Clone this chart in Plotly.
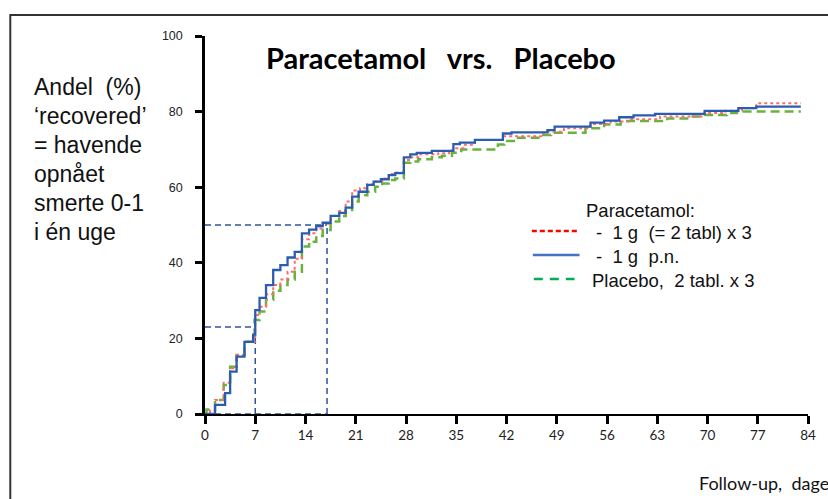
import plotly.graph_objects as go

# Kaplan-Meier-like cumulative recovery (%), step changes (day, %)
days_p3 = [0, 0.7, 1.4, 2.6, 3.5, 4.4, 5.5, 7.0, 7.6, 8.5, 9.5, 10.5, 11.5, 12.5, 13.5, 14.5, 15.5,
           16.4, 17.5, 18.7, 19.6, 20.5, 21.6, 22.6, 23.5, 24.7, 25.6, 26.5, 27.7, 28.6, 29.7, 32.5,
           34.0, 35.0, 36.0, 37.6, 41.7, 47.2, 50.0, 53.7, 56.5, 59.2, 63.4, 69.6, 72.5, 74.8, 76.8, 83.0]
pct_p3 = [0, 0.9, 3.7, 8.3, 12.1, 15.6, 19.1, 26.2, 28.4, 31.7, 34.1, 35.6, 37.6, 41.1, 46.2, 47.8, 49.1,
          50.3, 52.4, 53.7, 56.2, 59.1, 59.7, 60.8, 61.5, 62.3, 63.5, 63.9, 67.2, 67.9, 68.7, 69.0,
          69.8, 70.3, 71.2, 72.5, 73.5, 74.7, 75.6, 76.7, 77.4, 78.0, 78.7, 79.6, 80.2, 80.9, 82.2, 82.2]

days_pn = [0, 1.4, 2.8, 3.5, 4.4, 5.5, 6.7, 7.0, 7.6, 8.5, 9.5, 10.5, 11.5, 12.5, 13.5, 14.5, 15.5,
           16.4, 17.5, 18.7, 19.6, 20.5, 21.4, 22.6, 23.5, 24.5, 25.6, 26.5, 27.7, 28.6, 29.5, 31.6,
           34.6, 35.5, 37.6, 41.5, 42.7, 47.7, 48.7, 53.7, 55.6, 57.7, 59.7, 62.7, 69.6, 74.3, 76.8, 83.0]
pct_pn = [0, 2.4, 5.5, 11.2, 15.2, 19.1, 21.0, 27.5, 30.7, 34.1, 38.1, 39.4, 41.4, 42.9, 47.8, 48.8, 49.7,
          50.6, 52.4, 53.2, 54.6, 57.5, 58.8, 60.6, 61.5, 62.1, 63.2, 63.7, 67.9, 68.7, 69.1, 69.6,
          71.4, 71.8, 72.5, 74.2, 74.5, 75.1, 76.0, 77.1, 77.6, 78.5, 79.0, 79.4, 80.2, 80.9, 81.3, 81.3]

days_pl = [0, 0.2, 1.4, 2.6, 3.5, 4.4, 5.5, 6.9, 7.6, 8.5, 9.5, 10.5, 11.5, 12.5, 13.5, 14.5, 15.5,
           16.4, 17.5, 18.7, 19.6, 20.5, 21.4, 22.6, 23.7, 24.7, 25.6, 26.5, 27.7, 28.6, 29.7, 31.6,
           33.0, 34.4, 35.7, 40.8, 41.7, 43.6, 46.8, 48.2, 53.0, 55.6, 57.9, 64.4, 67.6, 69.7, 72.7, 74.1, 83.0]
pct_pl = [0, 1.2, 3.7, 7.7, 12.5, 15.6, 19.1, 24.9, 27.1, 30.2, 32.6, 34.1, 35.6, 37.6, 44.3, 45.6, 47.1,
          48.7, 50.9, 52.4, 54.0, 56.2, 57.9, 58.8, 60.1, 61.0, 61.9, 62.3, 66.5, 66.8, 67.4, 67.9,
          68.3, 69.1, 70.0, 71.3, 72.2, 73.1, 73.8, 74.4, 75.6, 76.6, 77.5, 78.2, 78.7, 79.1, 79.6, 80.0, 80.0]

x_ticks = list(range(0, 85, 7))
y_ticks = [0, 20, 40, 60, 80, 100]

# reference lines: median (50 %) and day-7 readings
median_day, median_pct = 17, 50
day7, pct_day7 = 7, 23

ref_col = "#2f5597"
W, H = 828, 499
L, R, T, B = 205, 16, 36, 85


def px(x):
    return (x - L) / (W - L - R)


def py(y):
    return (H - B - y) / (H - T - B)


fig = go.Figure()

fig.add_trace(go.Scatter(x=days_pl, y=pct_pl, mode="lines", line_shape="hv",
                         line=dict(color="#6ab23e", width=2.5, dash="9px,5px")))
fig.add_trace(go.Scatter(x=days_p3, y=pct_p3, mode="lines", line_shape="hv",
                         line=dict(color="#ff6b6b", width=2, dash="3px,3px")))
fig.add_trace(go.Scatter(x=days_pn, y=pct_pn, mode="lines", line_shape="hv",
                         line=dict(color="#2a5db0", width=2.3)))

# dashed reading lines
for x0, y0, x1, y1 in [(0, median_pct, median_day, median_pct), (median_day, 0, median_day, median_pct),
                       (0, pct_day7, day7, pct_day7), (day7, 0, day7, pct_day7), (0, 0, median_day, 0)]:
    fig.add_shape(type="line", xref="x", yref="y", x0=x0, y0=y0, x1=x1, y1=y1,
                  line=dict(color=ref_col, width=1.5, dash="6px,4px"), layer="below")

# outer frame
fig.add_shape(type="rect", xref="paper", yref="paper", x0=px(9), y0=py(H + 10), x1=px(W + 10), y1=py(15),
              line=dict(color="#333333", width=2))

# legend (drawn by hand)
leg_font = dict(family="Liberation Sans, Arial", size=18.5, color="#111111")
fig.add_annotation(xref="paper", yref="paper", x=px(587), y=py(210), text="Paracetamol:",
                   showarrow=False, xanchor="left", yanchor="middle", font=leg_font)
legend_rows = [
    (232, "#ff0000", "5px,3px", 534, 582, "-&nbsp; 1 g&nbsp; (= 2 tabl) x 3", 597),
    (256, "#4472c4", "solid", 535, 582, "-&nbsp; 1 g&nbsp; p.n.", 597),
    (280, "#00b050", "9px,7px", 536, 577, "Placebo,&nbsp; 2 tabl. x 3", 593),
]
for yy, col, dash, xa, xb, label, xt in legend_rows:
    fig.add_shape(type="line", xref="paper", yref="paper", x0=px(xa), x1=px(xb), y0=py(yy - 1), y1=py(yy - 1),
                  line=dict(color=col, width=2.5, dash=dash))
    fig.add_annotation(xref="paper", yref="paper", x=px(xt), y=py(yy), text=label,
                       showarrow=False, xanchor="left", yanchor="middle", font=leg_font)

# title
fig.add_annotation(xref="paper", yref="paper", x=px(443), y=py(57),
                   text="<b>Paracetamol&nbsp;&nbsp;&nbsp;vrs.&nbsp;&nbsp;&nbsp;Placebo</b>",
                   showarrow=False, xanchor="center", yanchor="middle",
                   font=dict(family="Lato, Carlito, sans-serif", size=29, color="black"))

# y-axis description
ylab = ["Andel&nbsp; (%)", "‘recovered’", "= havende", "opnået", "smerte 0-1", "i én uge"]
for i, s in enumerate(ylab):
    fig.add_annotation(xref="paper", yref="paper", x=px(31), y=py(87 + 29 * i), text=s,
                       showarrow=False, xanchor="left", yanchor="middle",
                       font=dict(family="Liberation Sans, Arial", size=23, color="#111111"))

fig.add_annotation(xref="paper", yref="paper", x=px(835), y=py(483), text="Follow-up,&nbsp; dage",
                   showarrow=False, xanchor="right", yanchor="middle",
                   font=dict(family="Lato, Carlito, sans-serif", size=18, color="#111111"))

fig.update_layout(
    width=W, height=H, showlegend=False,
    margin=dict(l=L, r=R, t=T, b=B),
    plot_bgcolor="white", paper_bgcolor="white",
    xaxis=dict(range=[0, 84], tickvals=x_ticks, showgrid=False, zeroline=False,
               showline=True, linecolor="black", linewidth=2,
               ticks="outside", ticklen=8, tickwidth=3, tickcolor="black",
               tickfont=dict(family="Lato, Carlito, sans-serif", size=13.5, color="#222222")),
    yaxis=dict(range=[0, 100], tickvals=y_ticks, showgrid=False, zeroline=False,
               showline=True, linecolor="black", linewidth=2.5,
               ticks="outside", ticklen=7, tickwidth=3, tickcolor="black", ticklabelstandoff=10,
               tickfont=dict(family="Liberation Sans, Arial", size=12.5, color="#222222")),
)

fig.write_html("out.html", config={"displayModeBar": False},
               post_script="document.body.style.margin='0px';")
